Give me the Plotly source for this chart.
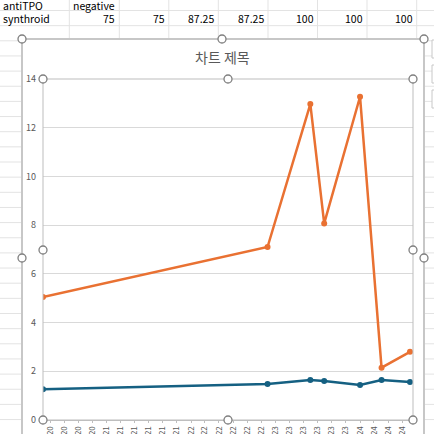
import plotly.graph_objects as go
import pandas as pd

# visit dates and lab values
visit_dates = ["2020-05-01", "2022-12-28", "2023-07-01", "2023-08-30",
               "2024-02-01", "2024-05-04", "2024-09-04"]
orange_vals = [5.05, 7.1, 12.97, 8.07, 13.27, 2.15, 2.8]
blue_vals = [1.26, 1.48, 1.64, 1.6, 1.44, 1.64, 1.56]

# spreadsheet cells visible above the chart
row1_cells = ["antiTPO", "negative"]
row2_label = "synthroid"
row2_vals = ["75", "75", "87.25", "87.25", "100", "100", "100"]

title_text = "차트 제목"
y_ticks = [0, 2, 4, 6, 8, 10, 12, 14]

tick_dates = pd.date_range("2020-06-01", "2024-08-01", freq="2MS")
tick_text = [d.strftime("%y") for d in tick_dates]

W = H = 434
FONT = "Noto Sans CJK KR"


def fx(x):
    return x / W


def fy(y):
    return 1 - y / H


fig = go.Figure()
fig.add_trace(go.Scatter(x=visit_dates, y=orange_vals, mode="lines+markers", name="TSH",
                         line=dict(color="#E97132", width=2.5), marker=dict(size=6, color="#E97132")))
fig.add_trace(go.Scatter(x=visit_dates, y=blue_vals, mode="lines+markers", name="fT4",
                         line=dict(color="#156082", width=2.5), marker=dict(size=6, color="#156082")))

shapes = []
grid = "#e3e3e3"
# sheet rows / columns outside the chart
y = 10.5
while y < H:
    if y < 39:
        shapes.append(dict(type="line", xref="paper", yref="paper", x0=0, x1=1, y0=fy(y), y1=fy(y),
                           line=dict(color=grid, width=1), layer="below"))
    else:
        shapes.append(dict(type="line", xref="paper", yref="paper", x0=0, x1=fx(21), y0=fy(y), y1=fy(y),
                           line=dict(color=grid, width=1), layer="below"))
        shapes.append(dict(type="line", xref="paper", yref="paper", x0=fx(425), x1=1, y0=fy(y), y1=fy(y),
                           line=dict(color=grid, width=1), layer="below"))
    y += 15.15
col_edges = [69.3, 119.3, 168.8, 218.3, 268, 317.5, 367, 416.7]
for cx in col_edges:
    shapes.append(dict(type="line", xref="paper", yref="paper", x0=fx(cx), x1=fx(cx), y0=1, y1=fy(38),
                       line=dict(color=grid, width=1), layer="below"))

# chart frame and plot area border
shapes.append(dict(type="rect", xref="paper", yref="paper", x0=fx(22), x1=fx(424), y0=fy(39), y1=-0.05,
                   line=dict(color="#b5b5b5", width=1.5), fillcolor="white", layer="below"))
shapes.append(dict(type="rect", xref="paper", yref="paper", x0=fx(43), x1=fx(413), y0=fy(79), y1=fy(420),
                   line=dict(color="#bdbdbd", width=1), layer="above"))
# chart side buttons
for (t, b) in [(40, 58), (65, 83), (90, 108)]:
    shapes.append(dict(type="rect", xref="paper", yref="paper", x0=fx(432), x1=fx(440), y0=fy(t), y1=fy(b),
                       line=dict(color="#c8c8c8", width=1), fillcolor="white"))
# selection handles
handles = [(22, 39), (222, 39), (424, 39), (22, 258), (424, 258),
           (43, 79), (228, 79), (413, 79), (43, 250), (413, 250),
           (43, 420), (228, 420), (413, 420)]
r = 4
for hx, hy in handles:
    shapes.append(dict(type="circle", xref="paper", yref="paper", x0=fx(hx - r), x1=fx(hx + r),
                       y0=fy(hy + r), y1=fy(hy - r), line=dict(color="#7f7f7f", width=1.3),
                       fillcolor="white"))


def cell(text, x, y, anchor, size=10.5, color="black"):
    return dict(text=text, x=fx(x), y=fy(y), xref="paper", yref="paper", showarrow=False,
                xanchor=anchor, yanchor="middle", font=dict(family=FONT, size=size, color=color))


annotations = [
    cell(title_text, 222, 57, "center", size=14, color="#595959"),
    cell(row1_cells[0], 1, 5, "left"),
    cell(row1_cells[1], 71, 5, "left"),
    cell(row2_label, 1, 18.5, "left"),
]
for edge, v in zip(col_edges[1:], row2_vals):
    annotations.append(cell(v, edge - 2, 18.5, "right"))

fig.update_layout(
    width=W, height=H,
    margin=dict(l=0, r=0, t=0, b=0),
    paper_bgcolor="white", plot_bgcolor="rgba(0,0,0,0)",
    showlegend=False,
    shapes=shapes, annotations=annotations,
    xaxis=dict(domain=[fx(43), fx(413)], range=["2020-05-01", "2024-09-17"], type="date",
               tickvals=list(tick_dates), ticktext=tick_text, tickangle=-90,
               tickfont=dict(family=FONT, size=8, color="#595959"),
               showgrid=False, showline=True, linecolor="#bfbfbf", linewidth=1,
               ticks="outside", ticklen=2, tickcolor="#bfbfbf", zeroline=False, automargin=False),
    yaxis=dict(domain=[fy(420), fy(79)], range=[0, 14], tickvals=y_ticks,
               tickfont=dict(family=FONT, size=9, color="#595959"),
               showgrid=True, gridcolor="#d9d9d9", gridwidth=1, zeroline=False,
               showline=False, ticks="", ticklabelstandoff=6, automargin=False),
)

# drop the browser's default body margin so the figure sits at the window corner
fig.write_html("out.html", config={"displayModeBar": False},
               post_script="document.body.style.margin='0';document.body.style.overflow='hidden';")
